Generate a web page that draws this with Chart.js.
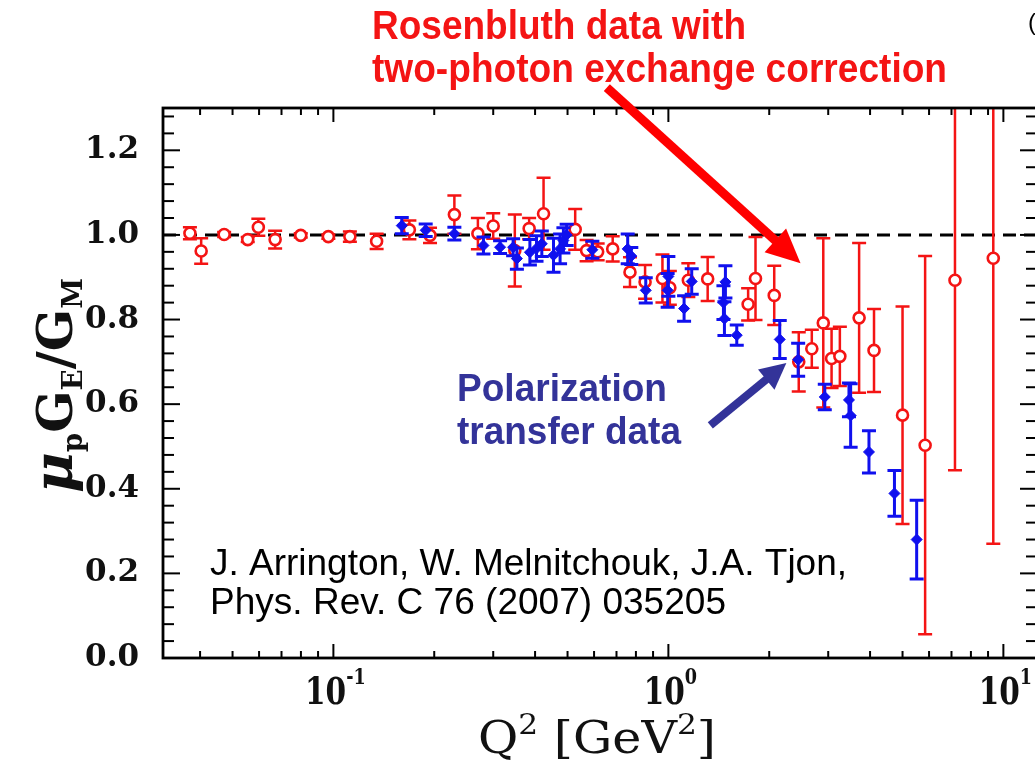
<!DOCTYPE html>
<html>
<head>
<meta charset="utf-8">
<title>mu_p G_E / G_M vs Q2</title>
<script src="https://cdn.jsdelivr.net/npm/chart.js@4.4.1/dist/chart.umd.min.js"></script>
<style>
  html, body { margin: 0; padding: 0; background: #fff; overflow: hidden; }
  #wrap { position: relative; width: 1060px; height: 766px; }
</style>
</head>
<body>
<div id="wrap"><canvas id="ratioChart"></canvas></div>
<script>
// Rosenbluth data with two-photon exchange correction (open red circles)
const rosQ2    = [0.0373, 0.0403, 0.0472, 0.0555, 0.0597, 0.067, 0.0799, 0.0966, 0.112, 0.1346,
                  0.1686, 0.1943, 0.2297, 0.27, 0.30, 0.348, 0.384, 0.424, 0.527, 0.57,
                  0.615, 0.682, 0.768, 0.852, 0.96, 1.01, 1.147, 1.31, 1.73, 1.82,
                  2.07, 2.45, 2.68, 2.90, 3.07, 3.25, 3.71, 4.11, 5.0, 5.84, 7.17, 9.33];
const rosRatio = [1.004, 0.962, 1.001, 0.989, 1.018, 0.989, 0.999, 0.996, 0.996, 0.985,
                  1.012, 0.999, 1.048, 1.003, 1.021, 0.963, 1.015, 1.05, 1.013, 0.963,
                  0.96, 0.967, 0.912, 0.889, 0.897, 0.875, 0.893, 0.896, 0.836, 0.897,
                  0.857, 0.70, 0.731, 0.792, 0.708, 0.713, 0.804, 0.727, 0.574, 0.503, 0.893, 0.945];
const rosErr   = [0.014, 0.03, 0.006, 0.006, 0.02, 0.021, 0.005, 0.005, 0.012, 0.018,
                  0.022, 0.018, 0.045, 0.037, 0.03, 0.085, 0.025, 0.085, 0.048, 0.025,
                  0.02, 0.03, 0.035, 0.04, 0.057, 0.04, 0.04, 0.052, 0.038, 0.098,
                  0.07, 0.07, 0.045, 0.2, 0.07, 0.07, 0.177, 0.098, 0.257, 0.447, 0.449, 0.675];

// Polarization transfer data (filled blue)
const polQ2    = [0.160, 0.1886, 0.2297, 0.2805, 0.3145, 0.344, 0.353, 0.386, 0.404, 0.419,
                  0.454, 0.475, 0.486, 0.497, 0.593, 0.756, 0.775, 0.856, 0.995, 1.0,
                  1.114, 1.174, 1.46, 1.47, 1.48, 1.6, 2.15, 2.44, 2.93, 3.46,
                  3.5, 3.97, 4.73, 5.51];
const polRatio = [1.022, 1.011, 1.003, 0.975, 0.971, 0.971, 0.944, 0.959, 0.968, 0.979,
                  0.952, 0.967, 0.987, 1.0, 0.965, 0.967, 0.95, 0.869, 0.869, 0.902,
                  0.826, 0.89, 0.84, 0.802, 0.889, 0.763, 0.753, 0.705, 0.617, 0.61,
                  0.573, 0.487, 0.389, 0.28];
const polErr   = [0.019, 0.015, 0.015, 0.02, 0.015, 0.02, 0.025, 0.03, 0.03, 0.03,
                  0.04, 0.035, 0.03, 0.025, 0.02, 0.035, 0.02, 0.03, 0.04, 0.047,
                  0.03, 0.03, 0.04, 0.04, 0.038, 0.024, 0.045, 0.039, 0.03, 0.04,
                  0.075, 0.05, 0.054, 0.093];

// axes
const xRange = [0.031, 12.6];
const yRange = [0, 1.3];
const yTicks = [0, 0.2, 0.4, 0.6, 0.8, 1.0, 1.2];
const xTickDecades = [-1, 0, 1];

const RED = '#f41414';
const BLUE = '#1010ee';
const NAVY = '#333399';

// error bars drawn under each dataset's markers
const errorBars = {
  id: 'errorBars',
  beforeDatasetDraw(chart, args) {
    const ds = chart.data.datasets[args.index];
    if (!ds.errors) return;
    const { ctx, chartArea: a } = chart;
    const ys = chart.scales.y;
    ctx.save();
    ctx.beginPath();
    ctx.rect(a.left, a.top, a.right - a.left, a.bottom - a.top);
    ctx.clip();
    ctx.strokeStyle = ds.borderColor;
    ctx.lineWidth = ds.errWidth;
    args.meta.data.forEach((pt, i) => {
      const v = ds.data[i].y, e = ds.errors[i];
      const y1 = ys.getPixelForValue(v + e), y2 = ys.getPixelForValue(v - e);
      const c = ds.capHalf;
      ctx.beginPath();
      ctx.moveTo(pt.x, y1); ctx.lineTo(pt.x, y2);
      ctx.moveTo(pt.x - c, y1); ctx.lineTo(pt.x + c, y1);
      ctx.moveTo(pt.x - c, y2); ctx.lineTo(pt.x + c, y2);
      ctx.stroke();
    });
    ctx.restore();
  }
};

// box + inward ticks on all four sides
const frame = {
  id: 'frame',
  afterDatasetsDraw(chart) {
    const { ctx, chartArea: a, scales: { x, y } } = chart;
    const seg = (x1, y1, x2, y2) => { ctx.beginPath(); ctx.moveTo(x1, y1); ctx.lineTo(x2, y2); ctx.stroke(); };
    ctx.save();
    ctx.strokeStyle = '#000';
    ctx.lineWidth = 2;
    for (let d = -2; d <= 1; d++) {
      for (let k = 1; k <= 9; k++) {
        const v = k * Math.pow(10, d);
        if (v < x.min || v > x.max) continue;
        const px = x.getPixelForValue(v), len = k === 1 ? 14 : 7;
        seg(px, a.bottom, px, a.bottom - len);
        seg(px, a.top, px, a.top + len);
      }
    }
    for (let i = 0; i <= 32; i++) {
      const py = y.getPixelForValue(i * 0.04);
      const len = i % 5 === 0 ? 17 : 11;
      seg(a.left, py, a.left + len, py);
      seg(a.right, py, a.right - len, py);
    }
    ctx.lineWidth = 2.8;
    ctx.strokeRect(a.left, a.top, a.right - a.left, a.bottom - a.top);
    ctx.restore();
  }
};

function fitText(ctx, text, x, baseline, width, font, color) {
  ctx.save();
  ctx.font = font;
  ctx.fillStyle = color;
  ctx.textAlign = 'left';
  ctx.textBaseline = 'alphabetic';
  const w = ctx.measureText(text).width;
  ctx.translate(x, baseline);
  ctx.scale(width / w, 1);
  ctx.fillText(text, 0, 0);
  ctx.restore();
}

function arrow(ctx, x1, y1, x2, y2, w, headLen, headW, color) {
  const L = Math.hypot(x2 - x1, y2 - y1);
  ctx.save();
  ctx.translate(x2, y2);
  ctx.rotate(Math.atan2(y2 - y1, x2 - x1));
  ctx.fillStyle = color;
  ctx.fillRect(-L, -w / 2, L - headLen + 1, w);
  ctx.beginPath();
  ctx.moveTo(0, 0);
  ctx.lineTo(-headLen, -headW / 2);
  ctx.lineTo(-headLen, headW / 2);
  ctx.closePath();
  ctx.fill();
  ctx.restore();
}

// draws pieces [text, font, dy] one after another, squeezed to a given length
function drawPieces(ctx, pieces, length) {
  let total = 0;
  pieces.forEach(p => { ctx.font = p[1]; p.w = ctx.measureText(p[0]).width; total += p.w; });
  ctx.save();
  ctx.scale(length / total, 1);
  let cx = 0;
  pieces.forEach(p => { ctx.font = p[1]; ctx.fillText(p[0], cx, p[2]); cx += p.w; });
  ctx.restore();
}

const labels = {
  id: 'labels',
  afterDraw(chart) {
    const { ctx, scales: { x, y } } = chart;
    ctx.save();
    ctx.textBaseline = 'alphabetic';
    ctx.fillStyle = '#111';

    // x tick labels 10^n
    const sq = 0.8;
    xTickDecades.forEach(d => {
      const px = x.getPixelForValue(Math.pow(10, d));
      ctx.font = 'bold 37px "DejaVu Serif"';
      const wb = ctx.measureText('10').width * sq;
      ctx.font = 'bold 22px "DejaVu Serif"';
      const sup = String(d);
      const ws = ctx.measureText(sup).width * sq;
      const start = px - (wb + ws) / 2 + 2;
      ctx.save();
      ctx.translate(start, 704);
      ctx.scale(sq, 1);
      ctx.font = 'bold 37px "DejaVu Serif"';
      ctx.fillText('10', 0, 0);
      ctx.font = 'bold 22px "DejaVu Serif"';
      ctx.fillText(sup, wb / sq, -20);
      ctx.restore();
    });

    // x title: Q^2 [GeV^2]
    ctx.save();
    ctx.translate(478, 753);
    const main = '44px "DejaVu Serif"', sup = '28px "DejaVu Serif"';
    drawPieces(ctx, [['Q', main, 0], ['2', sup, -19], [' [GeV', main, 0], ['2', sup, -19], [']', main, 0]], 238);
    ctx.restore();

    // y title: mu_p G_E / G_M (rotated)
    ctx.save();
    ctx.translate(72, 493);
    ctx.rotate(-Math.PI / 2);
    const big = 'bold 48px "DejaVu Serif"', it = 'italic bold 54px "DejaVu Serif"', sub = 'bold 27px "DejaVu Serif"';
    drawPieces(ctx, [['\u03bc', it, 0], ['p', sub, 10], ['G', big, 0], ['E', sub, 10], ['/', big, 0], ['G', big, 0], ['M', sub, 10]], 215);
    ctx.restore();

    // annotations
    fitText(ctx, 'Rosenbluth data with', 372, 39, 374, 'bold 41px "Liberation Sans"', RED);
    fitText(ctx, 'two-photon exchange correction', 372, 82, 575, 'bold 41px "Liberation Sans"', RED);
    fitText(ctx, 'Polarization', 457, 401, 210, 'bold 39px "Liberation Sans"', NAVY);
    fitText(ctx, 'transfer data', 457, 444, 224, 'bold 39px "Liberation Sans"', NAVY);
    fitText(ctx, 'J. Arrington, W. Melnitchouk, J.A. Tjon,', 210, 575, 637, '36px "Liberation Sans"', '#000');
    fitText(ctx, 'Phys. Rev. C 76 (2007) 035205', 210, 614, 516, '36px "Liberation Sans"', '#000');
    ctx.font = '24px "Liberation Sans"';
    ctx.fillStyle = '#000';
    ctx.fillText('(', 1028, 30);

    // arrows, anchored in data coordinates
    arrow(ctx, x.getPixelForValue(0.655), y.getPixelForValue(1.348),
               x.getPixelForValue(2.48), y.getPixelForValue(0.933), 9, 34, 32, '#ff0000');
    arrow(ctx, x.getPixelForValue(1.334), y.getPixelForValue(0.55),
               x.getPixelForValue(2.25), y.getPixelForValue(0.697), 8, 26, 26, NAVY);
    ctx.restore();
  }
};

new Chart(document.getElementById('ratioChart'), {
  type: 'scatter',
  data: {
    datasets: [
      {
        label: 'Polarization transfer',
        data: polQ2.map((q, i) => ({ x: q, y: polRatio[i] })),
        errors: polErr,
        errWidth: 3,
        capHalf: 7,
        pointStyle: 'rectRot',
        pointRadius: 5.5,
        backgroundColor: BLUE,
        borderColor: BLUE,
        borderWidth: 1,
        order: 0
      },
      {
        label: 'Rosenbluth + TPE',
        data: rosQ2.map((q, i) => ({ x: q, y: rosRatio[i] })),
        errors: rosErr,
        errWidth: 2.5,
        capHalf: 7,
        pointStyle: 'circle',
        pointRadius: 5.5,
        backgroundColor: '#fff',
        borderColor: RED,
        borderWidth: 2.6,
        order: 1
      },
      {
        type: 'line',
        label: 'unity',
        data: [{ x: xRange[0], y: 1 }, { x: xRange[1], y: 1 }],
        borderColor: '#000',
        borderWidth: 3,
        borderDash: [13, 8],
        pointRadius: 0,
        order: 2
      }
    ]
  },
  options: {
    responsive: true,
    maintainAspectRatio: false,
    animation: false,
    layout: { padding: { left: 0, top: 108, right: 23, bottom: 0 } },
    plugins: { legend: { display: false }, tooltip: { enabled: false } },
    scales: {
      x: {
        type: 'logarithmic',
        min: xRange[0], max: xRange[1],
        grid: { display: false, drawTicks: false },
        border: { display: false },
        ticks: { display: false },
        afterFit: s => { s.height = 108; }
      },
      y: {
        type: 'linear',
        min: yRange[0], max: yRange[1],
        grid: { display: false, drawTicks: false },
        border: { display: false },
        afterBuildTicks: s => { s.ticks = yTicks.map(v => ({ value: v })); },
        ticks: {
          padding: 24,
          color: '#111',
          font: { family: 'DejaVu Serif', size: 31, weight: 'bold' },
          callback: v => v.toFixed(1)
        },
        afterFit: s => { s.width = 163; }
      }
    }
  },
  plugins: [errorBars, frame, labels]
});
</script>
</body>
</html>
